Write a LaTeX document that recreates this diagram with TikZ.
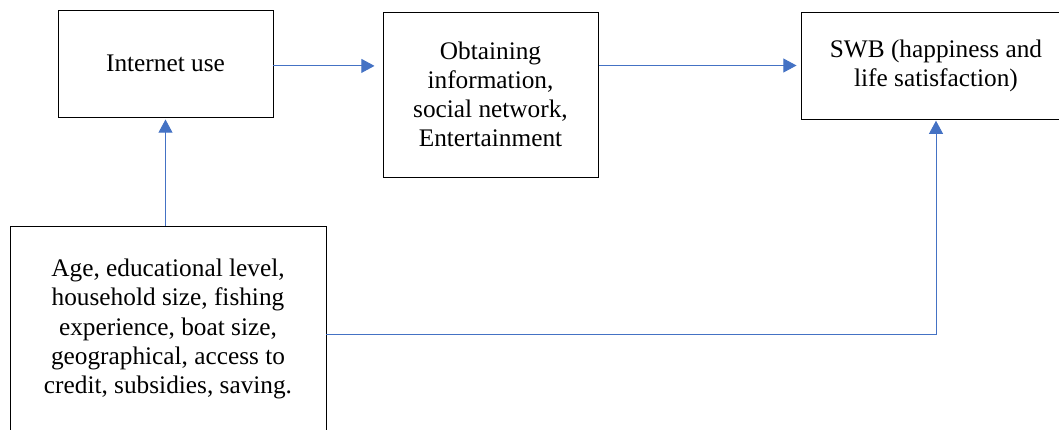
\documentclass[tikz,border=0pt]{standalone}
\usepackage{fontspec}
\setmainfont{Liberation Serif}
\usepackage{tikz}
\usetikzlibrary{shapes.geometric, arrows.meta}
\usetikzlibrary{positioning}
\definecolor{linkblue}{HTML}{4472C4}
\tikzstyle{factor} = [rectangle, minimum width=5.375cm, minimum height=2.675cm, text centered, align=center, draw=black, line width=0.7pt, font=\fontsize{18}{20.7}\selectfont]
\tikzstyle{arrow} = [draw=linkblue, line width=0.7pt, -{Triangle[length=0.33cm,width=0.35cm]}, color=linkblue]

\begin{document}
\begin{tikzpicture}
        \useasboundingbox (0,0) rectangle (26.475,-10.725);
        %boxes
        \node (Internet) [factor] at (4.1375,-1.5875) {Internet use};
        \node (Obtain) [factor, minimum height=4.125cm, right of=Internet, xshift=7.125cm, yshift=-0.775cm] {Obtaining\\information,\\social network,\\Entertainment};
        \node (SWB) [factor, minimum width=6.75cm, right of=Obtain, xshift=10.1375cm, yshift=0.725cm] {SWB (happiness and\\life satisfaction)};
        \node (Controls) [factor, minimum width=7.9cm, minimum height=5.15cm, below of=Internet, xshift=0.0625cm, yshift=-5.6375cm] {Age, educational level,\\household size, fishing\\experience, boat size,\\geographical, access to\\credit, subsidies, saving.};
        %arrows
        \draw [arrow, shorten >=0.2cm] ([yshift=-0.06cm]Internet.east) -- ([yshift=-0.06cm]Internet.east -| Obtain.west);
        \draw [arrow, shorten >=0.1cm] (Obtain.east |- SWB.west) -- (SWB.west);
        \draw [arrow, shorten >=0.05cm] (Controls.north -| Internet.south) -- (Internet.south);
        \draw [arrow, shorten >=0.03cm] ([yshift=-0.125cm]Controls.east) -| (SWB.south);
    \end{tikzpicture}
\end{document}
